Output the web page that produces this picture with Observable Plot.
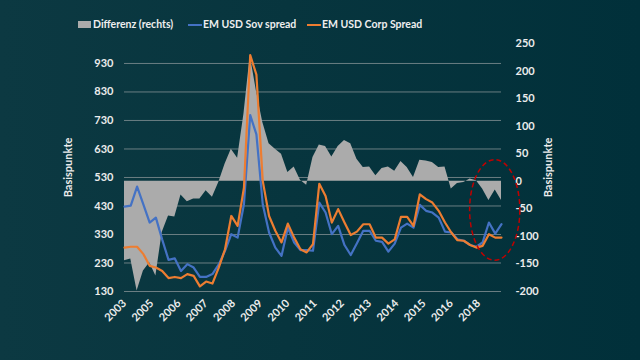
<!DOCTYPE html>
<html>
<head>
<meta charset="utf-8">
<script src="https://cdn.jsdelivr.net/npm/d3@7"></script>
<script src="https://cdn.jsdelivr.net/npm/@observablehq/plot@0.6"></script>
<style>
  html, body { margin: 0; padding: 0; }
  body {
    width: 640px; height: 360px; overflow: hidden;
    background: linear-gradient(90deg, #0c3942 0%, #07353e 45%, #01303a 100%);
    font-family: Lato, "Open Sans", sans-serif;
  }
  #legend { position: relative; height: 36px; color: #eeeeee; font-size: 10.5px; font-weight: bold; }
  #legend .item { position: absolute; top: 18px; line-height: 12px; white-space: nowrap; }
  #legend .sw { position: absolute; }
</style>
</head>
<body>
<div id="legend"></div>
<div id="chart"></div>
<script>
// ---- data ----
const dates = [
  "2003-12",
  "2004-03","2004-06","2004-09","2004-12",
  "2005-03","2005-06","2005-09","2005-12",
  "2006-03","2006-06","2006-09","2006-12",
  "2007-03","2007-06","2007-09","2007-12",
  "2008-03","2008-06","2008-09","2008-12",
  "2009-03","2009-06","2009-09","2009-12",
  "2010-03","2010-06","2010-09","2010-12",
  "2011-03","2011-06","2011-09","2011-12",
  "2012-03","2012-06","2012-09","2012-12",
  "2013-03","2013-06","2013-09","2013-12",
  "2014-03","2014-06","2014-09","2014-12",
  "2015-03","2015-06","2015-09","2015-12",
  "2016-03","2016-06","2016-09","2016-12",
  "2017-03","2017-06","2017-09","2017-12",
  "2018-03","2018-06","2018-09","2018-12"
];
const sovSpread = [
  428, 431, 498, 435, 372, 389, 312, 241, 246, 202,
  226, 214, 181, 181, 191, 225, 273, 331, 319, 436,
  749, 681, 436, 337, 284, 255, 354, 302, 275, 275,
  273, 442, 407, 331, 360, 293, 258, 299, 343, 343,
  308, 304, 270, 298, 354, 368, 354, 434, 413, 407,
  389, 340, 337, 313, 308, 293, 287, 302, 372, 333,
  366
];
const corpSpread = [
  284, 287, 287, 261, 220, 214, 202, 177, 181, 177,
  191, 185, 148, 165, 158, 214, 278, 395, 360, 494,
  959, 891, 518, 395, 343, 302, 368, 319, 278, 267,
  296, 508, 465, 372, 419, 372, 328, 340, 366, 366,
  319, 319, 298, 313, 392, 392, 360, 471, 454, 442,
  413, 372, 337, 310, 308, 293, 284, 290, 331, 319,
  319
];
const differenz = [
  -144, -141, -199, -163, -148, -172, -93, -63, -65, -25,
  -37, -32, -32, -17, -29, -2, 31, 58, 42, 122,
  228, 164, 107, 68, 58, 49, 16, 26, 2, -7,
  43, 66, 63, 44, 63, 74, 68, 40, 25, 26,
  10, 23, 26, 18, 36, 25, 7, 38, 37, 34,
  25, 26, -14, -4, -2, 4, 1, -14, -35, -16,
  -35
];
const leftTicks = [130, 230, 330, 430, 530, 630, 730, 830, 930];
const rightTicks = [-200, -150, -100, -50, 0, 50, 100, 150, 200, 250];
const xTickDates = ["2003-12","2005-01","2006-02","2007-03","2008-04","2009-05",
  "2010-06","2011-07","2012-08","2013-09","2014-10","2015-11","2016-12","2018-01"];
const leftDomain = [130, 1000];
const rightDomain = [-200, 250];
const seriesNames = ["Differenz (rechts)", "EM USD Sov spread", "EM USD Corp Spread"];
const seriesColors = ["#ababab", "#4472c4", "#ed7d31"];
// annotation: dashed ellipse around the last year (bounding box in data units)
const ellipseDates = ["2017-09", "2019-09"];
const ellipseValues = [238, 591];

// ---- helpers ----
const parse = d3.utcParse("%Y-%m");
const k = (leftDomain[1] - leftDomain[0]) / (rightDomain[1] - rightDomain[0]);
const toLeft = d => leftDomain[0] + (d - rightDomain[0]) * k;
const fromLeft = v => rightDomain[0] + (v - leftDomain[0]) / k;

const rows = dates.map((d, i) => ({
  date: parse(d), sov: sovSpread[i], corp: corpSpread[i], diff: differenz[i]
}));

// ---- legend ----
const legend = d3.select("#legend");
const legendX = [78, 188, 307];
seriesNames.forEach((name, i) => {
  const it = legend.append("div").attr("class", "item").style("left", legendX[i] + "px");
  if (i === 0) {
    legend.append("div").attr("class", "sw")
      .style("left", legendX[i] + "px").style("top", "21px")
      .style("width", "13px").style("height", "7px").style("background", seriesColors[i]);
  } else {
    legend.append("div").attr("class", "sw")
      .style("left", legendX[i] + "px").style("top", "24px")
      .style("width", "14px").style("height", "2px").style("background", seriesColors[i]);
  }
  it.style("left", (legendX[i] + 15) + "px").text(name);
});

// ---- chart ----
const plot = Plot.plot({
  width: 640,
  height: 324,
  marginTop: 7,
  marginBottom: 69,
  marginLeft: 124,
  marginRight: 139,
  style: {background: "transparent", color: "#ececec", fontFamily: "Lato, sans-serif", fontSize: "11px", fontWeight: "bold"},
  x: {type: "utc", domain: [parse(dates[0]), parse(dates[dates.length - 1])]},
  y: {domain: leftDomain},
  marks: [
    Plot.gridY(leftTicks, {stroke: "#8c979a", strokeOpacity: 0.75, strokeWidth: 1}),
    Plot.areaY(rows, {x: "date", y1: () => toLeft(0), y2: d => toLeft(d.diff), fill: seriesColors[0], curve: "linear"}),
    Plot.line(rows, {x: "date", y: "sov", stroke: seriesColors[1], strokeWidth: 2.2}),
    Plot.line(rows, {x: "date", y: "corp", stroke: seriesColors[2], strokeWidth: 2.2}),
    Plot.axisY(leftTicks, {anchor: "left", tickSize: 0, tickPadding: 11, label: "Basispunkte", labelAnchor: "center", labelOffset: 60, labelArrow: "none"}),
    Plot.axisY(rightTicks.map(toLeft), {anchor: "right", tickSize: 0, tickPadding: 14,
      tickFormat: v => String(Math.round(fromLeft(v))), label: "Basispunkte", labelAnchor: "center", labelOffset: 50, labelArrow: "none"}),
    Plot.axisX(xTickDates.map(parse), {tickSize: 0, tickPadding: 10, tickRotate: -45, tickFormat: d3.utcFormat("%Y"), label: null})
  ]
});
document.getElementById("chart").appendChild(plot);

// dashed ellipse annotation placed through the chart's scales
const sx = plot.scale("x"), sy = plot.scale("y");
const xa = sx.apply(parse(ellipseDates[0])), xb = sx.apply(parse(ellipseDates[1]));
const ya = sy.apply(ellipseValues[0]), yb = sy.apply(ellipseValues[1]);
d3.select(plot).append("ellipse")
  .attr("cx", (xa + xb) / 2).attr("cy", (ya + yb) / 2)
  .attr("rx", Math.abs(xb - xa) / 2).attr("ry", Math.abs(ya - yb) / 2)
  .attr("fill", "none").attr("stroke", "#c00000").attr("stroke-width", 1.5)
  .attr("stroke-dasharray", "5,3");
</script>
</body>
</html>
